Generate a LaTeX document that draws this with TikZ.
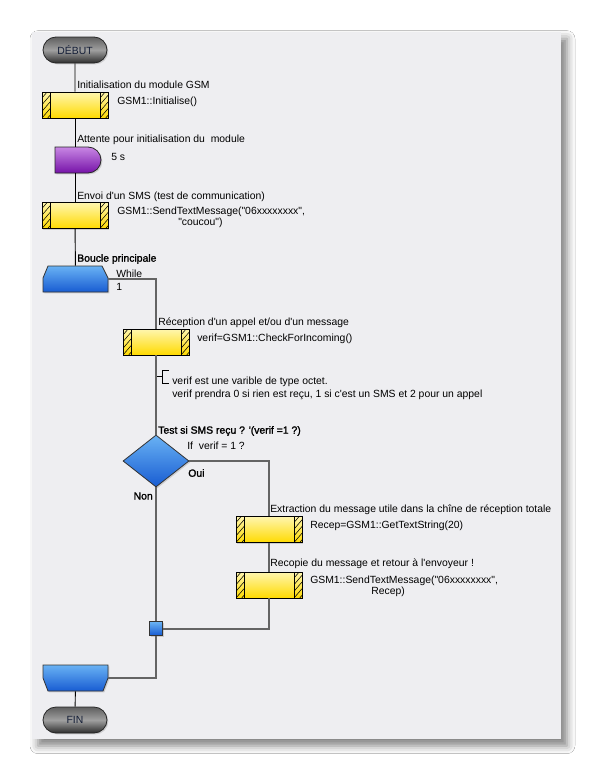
\documentclass[tikz,border=0pt]{standalone}
\usepackage{fontspec}
\setmainfont{Liberation Sans}[Ligatures=TeXOff]
\newfontfamily\heavyfont{Liberation Sans}[FakeBold=1.6]
\usetikzlibrary{shapes.misc,shapes.geometric,shadows,shadows.blur}

\definecolor{panel}{RGB}{238,238,241}
\definecolor{yellowtop}{RGB}{255,246,175}
\definecolor{yellowbot}{RGB}{255,218,0}
\definecolor{purpletop}{RGB}{200,135,228}
\definecolor{purplebot}{RGB}{118,18,168}
\definecolor{bluetop}{RGB}{105,178,244}
\definecolor{bluebot}{RGB}{24,92,210}
\definecolor{pilltop}{RGB}{95,95,95}
\definecolor{pillmid}{RGB}{160,160,160}
\definecolor{pillbot}{RGB}{45,45,45}
\definecolor{loopgray}{RGB}{100,100,100}
\definecolor{pilltext}{RGB}{20,30,55}

\tikzset{
  lbl/.style={anchor=west, inner sep=0pt, align=left, font=\fontsize{7.8}{8.25}\selectfont},
  heavylbl/.style={lbl, font=\fontsize{7.8}{8.25}\selectfont\heavyfont},
  shapeshadow/.style={drop shadow={opacity=0.3, shadow xshift=1pt, shadow yshift=-1pt}},
  terminal/.style={rounded rectangle, draw=black!85, line width=0.6pt,
    minimum width=48pt, minimum height=19.5pt, inner sep=0pt,
    top color=pilltop, bottom color=pillbot, middle color=pillmid,
    shapeshadow, text=pilltext, font=\fontsize{7.8}{9}\selectfont},
  process/.style={rectangle, draw=black, line width=0.7pt,
    minimum width=49.5pt, minimum height=19.5pt, inner sep=0pt,
    top color=yellowtop, bottom color=yellowbot, shapeshadow,
    path picture={
      \begin{scope}
        \clip (path picture bounding box.north west) rectangle ([xshift=6pt]path picture bounding box.south west);
        \foreach \k in {-2,...,4}
          \draw[line width=0.4pt] ([yshift=\k*5pt]path picture bounding box.south west) -- ++(6pt,7pt);
      \end{scope}
      \begin{scope}
        \clip ([xshift=-6pt]path picture bounding box.north east) rectangle (path picture bounding box.south east);
        \foreach \k in {-2,...,4}
          \draw[line width=0.4pt] ([xshift=-6pt, yshift=\k*5pt]path picture bounding box.south east) -- ++(6pt,7pt);
      \end{scope}
      \draw[line width=0.7pt] ([xshift=6pt]path picture bounding box.north west) -- ([xshift=6pt]path picture bounding box.south west);
      \draw[line width=0.7pt] ([xshift=-6pt]path picture bounding box.north east) -- ([xshift=-6pt]path picture bounding box.south east);
    }},
  delay/.style={rounded rectangle, rounded rectangle left arc=none,
    draw=black!85, line width=0.6pt, minimum width=34.5pt, minimum height=19.5pt,
    inner sep=0pt, top color=purpletop, bottom color=purplebot, shapeshadow},
  decision/.style={diamond, draw=black!80, line width=0.6pt, inner sep=0pt,
    minimum width=49.5pt, minimum height=39pt,
    top color=bluetop, bottom color=bluebot, shapeshadow},
  junction/.style={rectangle, draw=black!80, line width=0.6pt, inner sep=0pt,
    minimum size=10pt, top color=bluetop, bottom color=bluebot, shapeshadow},
  loopnode/.style={rectangle, inner sep=0pt, minimum width=48.75pt, minimum height=19.5pt},
  loopfill/.style={draw=black!80, line width=0.6pt, top color=bluetop, bottom color=bluebot, shapeshadow},
  flow/.style={draw=black, line width=0.7pt},
  loopline/.style={draw=loopgray, line width=1.5pt}
}

\begin{document}
\begin{tikzpicture}[x=0.75pt, y=-0.75pt]
  % page and sheet
  \useasboundingbox[fill=white] (0,0) rectangle (593,771);
  \fill[panel, blur shadow={shadow xshift=4.5pt, shadow yshift=-5pt,
    shadow blur radius=6pt, shadow opacity=50}] (32,32) rectangle (561,739);

  % loop begin / loop end
  \node[loopnode] (loopst) at (75.5,279) {};
  \node[loopnode] (loopend) at (75.5,678) {};
  \path[loopfill] (43,292) -- (43,278) -- (48,266) -- (102,266) -- (108,278) -- (108,292) -- cycle;
  \path[loopfill] (43,665) -- (108,665) -- (108,678) -- (103,691) -- (48,691) -- (43,678) -- cycle;

  % main column
  \node[terminal] (debut) at (75,50) {DÉBUT};
  \node[process] (init) at (75,105) {};
  \node[delay] (wait) at (78,160) {};
  \node[process] (envoi) at (75,215.5) {};
  \node[terminal] (fin) at (75,720) {FIN};

  % loop body
  \node[process] (recv) at (156,342) {};
  \node[decision] (test) at (156,461) {};
  \node[process] (extract) at (269,529.5) {};
  \node[process] (recopy) at (269,585) {};
  \node[junction] (join) at (156,628.5) {};

  \draw[flow] (debut) -- (init);
  \draw[flow] (init) -- (init.south |- wait.north);
  \draw[flow] (init.south |- wait.south) -- (envoi);
  \draw[flow] (envoi) -- (loopst);
  \draw[flow] (loopend) -- (fin);

  \draw[loopline] (loopst.east) -| (recv);
  \draw[loopline] (recv) -- (test);
  \draw[loopline] (test.east) -| (extract);
  \draw[loopline] (extract) -- (recopy);
  \draw[loopline] (recopy) |- (join);
  \draw[loopline] (test) -- (join);
  \draw[loopline] (join) |- (loopend.east);

  % comment bracket
  \coordinate (cmt) at (157,376.5);
  \draw[line width=0.6pt] (cmt) -- (162,376.5);
  \draw[line width=0.6pt] (169,370) -- (162,370) -- (162,383) -- (169,383);

  % texts
  \node[lbl] (initlbl) at (77,85) {Initialisation du module GSM};
  \node[lbl] (initcode) at (117,102) {GSM1::Initialise()};
  \node[lbl] (waitlbl) at (77,140) {Attente pour initialisation du\ \ module};
  \node[lbl] (waitval) at (111,157) {5 s};
  \node[lbl] (envoilbl) at (77,197) {Envoi d'un SMS (test de communication)};
  \node[lbl] (envoicode) at (117,217.5) {GSM1::SendTextMessage("06xxxxxxxx",\\\hspace*{45.75pt}"coucou")};
  \node[heavylbl] (looplbl) at (77,259) {Boucle principale};
  \node[lbl, font=\fontsize{7.8}{9.75}\selectfont] (loopcond) at (116,280.5) {While\\1};
  \node[lbl] (recvlbl) at (158,323) {Réception d'un appel et/ou d'un message};
  \node[lbl] (recvcode) at (197,339) {verif=GSM1::CheckForIncoming()};
  \node[lbl, font=\fontsize{7.8}{9.75}\selectfont] (note) at (172,388.5)
    {verif est une varible de type octet.\\verif prendra 0 si rien est reçu, 1 si c'est un SMS et 2 pour un appel};
  \node[heavylbl] (testlbl) at (158,431) {Test si SMS reçu ? '(verif =1 ?)};
  \node[lbl] (testcond) at (187,446) {If\ \ verif = 1 ?};
  \node[heavylbl] (oui) at (188,473) {Oui};
  \node[heavylbl, anchor=east] (non) at (153,496) {Non};
  \node[lbl] (extractlbl) at (270,510) {Extraction du message utile dans la chîne de réception totale};
  \node[lbl] (extractcode) at (310,526) {Recep=GSM1::GetTextString(20)};
  \node[lbl] (recopylbl) at (270,564) {Recopie du message et retour à l'envoyeur !};
  \node[lbl] (recopycode) at (310,586) {GSM1::SendTextMessage("06xxxxxxxx",\\\hspace*{45.75pt}Recep)};
\end{tikzpicture}
\end{document}
